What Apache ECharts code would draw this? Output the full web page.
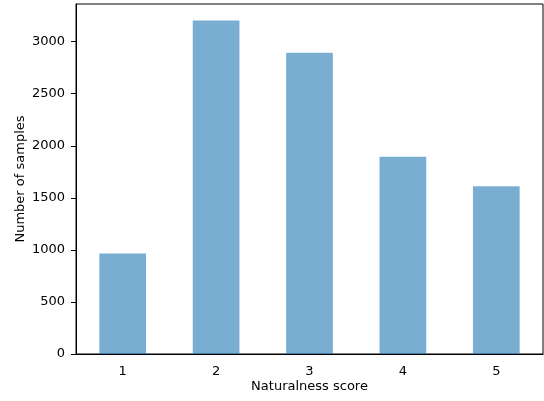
<!DOCTYPE html>
<html><head><meta charset="utf-8">
<script src="https://cdn.jsdelivr.net/npm/echarts@6/dist/echarts.min.js"></script>
<style>html,body{margin:0;padding:0;background:#fff}#c{width:544px;height:401px}</style>
</head><body><div id="c"></div>
<script>
const categories = ['1','2','3','4','5'];
const counts = [965, 3203, 2893, 1895, 1612];
const yTicks = [0,500,1000,1500,2000,2500,3000];

const chart = echarts.init(document.getElementById('c'), null, {renderer:'canvas'});
const font = 'DejaVu Sans';
chart.setOption({
  animation:false,
  grid:{left:76,right:1,top:4,bottom:47,containLabel:false,outerBoundsMode:'none',show:true,borderColor:'#000',borderWidth:1,backgroundColor:'transparent'},
  xAxis:{type:'category',data:categories,boundaryGap:true,
    name:'Naturalness score',nameLocation:'middle',nameGap:26,nameMoveOverlap:false,
    nameTextStyle:{fontFamily:font,fontSize:13,color:'#000'},
    axisLine:{lineStyle:{color:'#000',width:1}},
    axisTick:{alignWithLabel:true,length:5,lineStyle:{color:'#000'}},
    axisLabel:{fontFamily:font,fontSize:13,color:'#000',margin:11},
    splitLine:{show:false}},
  yAxis:{type:'value',min:0,max:3362,interval:500,
    name:'Number of samples',nameLocation:'middle',nameGap:49,nameRotate:90,nameMoveOverlap:false,
    nameTextStyle:{fontFamily:font,fontSize:13,color:'#000'},
    axisLine:{show:true,lineStyle:{color:'#000',width:1}},
    axisTick:{show:true,length:5,customValues:yTicks,lineStyle:{color:'#000'}},
    axisLabel:{fontFamily:font,fontSize:13,color:'#000',margin:11,customValues:yTicks,formatter:v=>String(v)},
    splitLine:{show:false}},
  series:[{type:'bar',data:counts,barWidth:'50%',
    itemStyle:{color:'rgba(31,119,180,0.6)'}}]
});
</script></body></html>
